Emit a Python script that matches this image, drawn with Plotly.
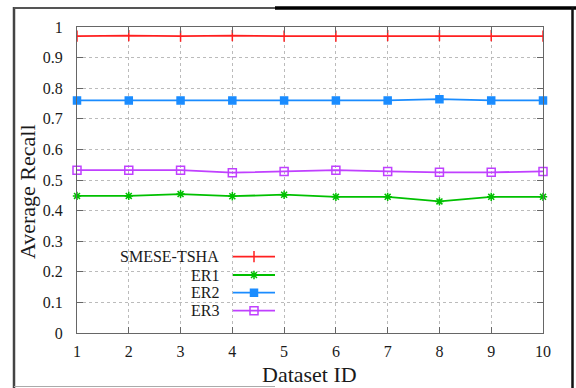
import plotly.graph_objects as go

# ---- data ----
dataset_ids = [1, 2, 3, 4, 5, 6, 7, 8, 9, 10]
smese_tsha = [0.970, 0.972, 0.970, 0.972, 0.970, 0.970, 0.972, 0.972, 0.972, 0.970]
er1 = [0.448, 0.448, 0.454, 0.447, 0.452, 0.445, 0.445, 0.430, 0.445, 0.445]
er2 = [0.760, 0.760, 0.760, 0.760, 0.760, 0.760, 0.760, 0.764, 0.760, 0.760]
er3 = [0.532, 0.532, 0.532, 0.524, 0.528, 0.532, 0.528, 0.525, 0.525, 0.528]
series_names = ["SMESE-TSHA", "ER1", "ER2", "ER3"]
y_ticks = [0, 0.1, 0.2, 0.3, 0.4, 0.5, 0.6, 0.7, 0.8, 0.9, 1]
y_tick_labels = ["0", "0.1", "0.2", "0.3", "0.4", "0.5", "0.6", "0.7", "0.8", "0.9", "1"]

# ---- styles ----
W, H = 576, 388
L, R, T, B = 77, 543, 27, 333  # plot area in px
colors = ["#ff2020", "#00c000", "#1a8cff", "#c040ff"]
symbols = ["line-ns-open", "asterisk-open", "square", "square-open"]
msizes = [8, 7, 7, 8]
FONT = "Liberation Serif"


def px(x):
    return (x - L) / (R - L)


def py(y):
    return (B - y) / (B - T)


fig = go.Figure()
for name, vals, c, s, ms in zip(series_names, [smese_tsha, er1, er2, er3], colors, symbols, msizes):
    fig.add_trace(go.Scatter(
        x=dataset_ids, y=vals, mode="lines+markers", name=name,
        line=dict(color=c, width=1.8),
        marker=dict(symbol=s, size=ms, color=c, line=dict(color=c, width=1.5)),
        showlegend=False, cliponaxis=False,
    ))

# ---- custom legend (text right, sample on right as in gnuplot) ----
leg_rows_px = [256.7, 275, 292.7, 310.7]
leg_text_right = 221
leg_line = (233, 275)
leg_marker_x = 254
shapes = []
annotations = []
for name, c, s, ms, ypx in zip(series_names, colors, symbols, msizes, leg_rows_px):
    annotations.append(dict(x=px(leg_text_right), y=py(ypx), xref="paper", yref="paper",
                            text=name, showarrow=False, xanchor="right", yanchor="middle",
                            font=dict(family=FONT, size=16, color="#1a1a1a")))
    shapes.append(dict(type="line", xref="paper", yref="paper",
                       x0=px(leg_line[0]), x1=px(leg_line[1]), y0=py(ypx), y1=py(ypx),
                       line=dict(color=c, width=1.8)))
    fig.add_trace(go.Scatter(
        x=[px(leg_marker_x)], y=[py(ypx)], mode="markers", xaxis="x2", yaxis="y2",
        marker=dict(symbol=s, size=ms, color=c, line=dict(color=c, width=1.5)),
        showlegend=False, hoverinfo="skip",
    ))

# ---- axis titles ----
annotations.append(dict(x=px(309), y=py(374), xref="paper", yref="paper", text="Dataset ID",
                        showarrow=False, font=dict(family=FONT, size=22, color="#1a1a1a"),
                        xanchor="center", yanchor="middle"))
annotations.append(dict(x=px(27), y=py(192), xref="paper", yref="paper", text="Average Recall",
                        showarrow=False, textangle=-90, font=dict(family=FONT, size=22, color="#1a1a1a"),
                        xanchor="center", yanchor="middle"))

# ---- outer frame (scanned figure border) ----
shapes += [
    dict(type="line", xref="paper", yref="paper", x0=px(14), x1=px(14), y0=py(7), y1=py(388),
         line=dict(color="#444", width=2.5)),
    dict(type="line", xref="paper", yref="paper", x0=px(14), x1=px(275), y0=py(8), y1=py(8),
         line=dict(color="#555", width=2)),
    dict(type="line", xref="paper", yref="paper", x0=px(275), x1=px(576), y0=py(8), y1=py(8),
         line=dict(color="#000", width=3.5)),
    dict(type="line", xref="paper", yref="paper", x0=px(572.5), x1=px(572.5), y0=py(7), y1=py(388),
         line=dict(color="#111", width=2.5)),
    dict(type="line", xref="paper", yref="paper", x0=px(14), x1=px(275), y0=py(386.5), y1=py(386.5),
         line=dict(color="#aaa", width=1)),
]

axis_common = dict(
    showline=True, linecolor="#666", linewidth=1, mirror="ticks",
    ticks="inside", ticklen=6, tickcolor="#666", tickwidth=1,
    showgrid=True, gridcolor="#bbbbbb", griddash="dot", gridwidth=1,
    zeroline=False, tickfont=dict(family=FONT, size=16, color="#1a1a1a"),
)

fig.update_layout(
    width=W, height=H,
    font=dict(family=FONT, color="#1a1a1a"),
    margin=dict(l=L, r=W - R, t=T, b=H - B),
    paper_bgcolor="white", plot_bgcolor="white",
    xaxis=dict(range=[1, 10], tickvals=dataset_ids, ticklabelstandoff=4, **axis_common),
    yaxis=dict(range=[0, 1], tickvals=y_ticks, ticktext=y_tick_labels, ticklabelstandoff=10, **axis_common),
    xaxis2=dict(range=[0, 1], overlaying="x", visible=False, anchor="y2"),
    yaxis2=dict(range=[0, 1], overlaying="y", visible=False, anchor="x2"),
    shapes=shapes, annotations=annotations,
    showlegend=False,
)

fig.write_html("out.html", config={"displayModeBar": False},
               post_script="document.body.style.margin='0';")
